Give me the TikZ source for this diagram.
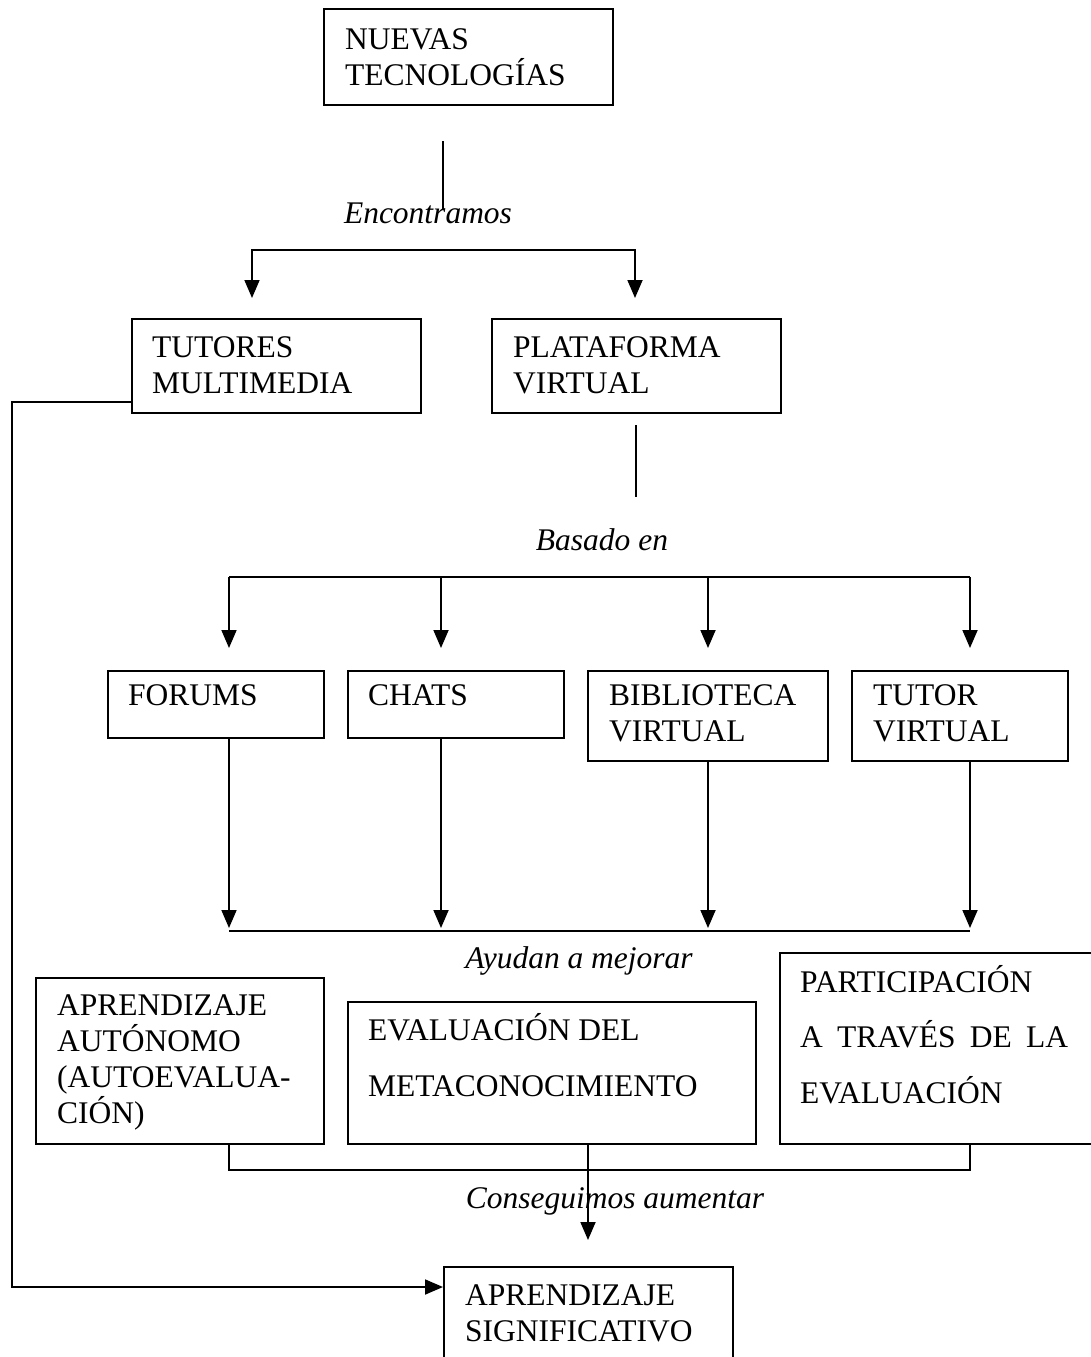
\documentclass[tikz,border=0pt]{standalone}
\usepackage{fontspec}
\setmainfont{Liberation Serif}
\usetikzlibrary{arrows.meta}
\newcommand\mapfont{\fontsize{31.5}{36}\selectfont}
\begin{document}
\begin{tikzpicture}[x=1pt,y=-1pt,
  box/.style={draw, line width=1.8pt, inner sep=0pt, anchor=north west},
  % multi-line texts are placed by the baseline of their last line
  txt/.style={anchor=base west, inner sep=0pt, align=left, font=\mapfont},
  lbl/.style={anchor=base, inner sep=0pt, font=\mapfont\itshape},
  link/.style={line width=1.8pt},
  arr/.style={link, -{Triangle[length=18pt,width=15pt]}}]
\useasboundingbox (0,0) rectangle (1090,1357);

% boxes
\node[box, minimum width=289pt, minimum height=96pt]  (nt) at (323,8) {};
\node[box, minimum width=289pt, minimum height=94pt]  (tm) at (131,318) {};
\node[box, minimum width=289pt, minimum height=94pt]  (pv) at (491,318) {};
\node[box, minimum width=216pt, minimum height=67pt]  (fo) at (107,670) {};
\node[box, minimum width=216pt, minimum height=67pt]  (ch) at (347,670) {};
\node[box, minimum width=240pt, minimum height=90pt]  (bi) at (587,670) {};
\node[box, minimum width=216pt, minimum height=90pt]  (tv) at (851,670) {};
\node[box, minimum width=288pt, minimum height=166pt] (aa) at (35,977) {};
\node[box, minimum width=408pt, minimum height=142pt] (em) at (347,1001) {};
\node[box, minimum width=330pt, minimum height=191pt] (pa) at (779,952) {};
\node[box, minimum width=289pt, minimum height=100pt] (as) at (443,1266) {};

% box texts
\node[txt] (nt-t) at (345,85)   {NUEVAS\\TECNOLOGÍAS};
\node[txt] (tm-t) at (152,393)  {TUTORES\\MULTIMEDIA};
\node[txt] (pv-t) at (513,393)  {PLATAFORMA\\VIRTUAL};
\node[txt] (fo-t) at (128,705)  {FORUMS};
\node[txt] (ch-t) at (368,705)  {CHATS};
\node[txt] (bi-t) at (609,741)  {BIBLIOTECA\\VIRTUAL};
\node[txt] (tv-t) at (873,741)  {TUTOR\\VIRTUAL};
\node[txt] (aa-t) at (57,1123)  {APRENDIZAJE\\AUTÓNOMO\\(AUTOEVALUA-\\CIÓN)};
\node[txt] (em-t) at (368,1096) {EVALUACIÓN DEL\\[19.5pt]METACONOCIMIENTO};
\node[txt] (pa-t) at (800,1103) {PARTICIPACIÓN\\[19.5pt]\makebox[268pt][s]{A TRAVÉS DE LA}\\[19.5pt]EVALUACIÓN};
\node[txt] (as-t) at (465,1341) {APRENDIZAJE\\SIGNIFICATIVO};

% connector labels
\node[lbl] (l1) at (428,223)  {Encontramos};
\node[lbl] (l2) at (602,550)  {Basado en};
\node[lbl] (l3) at (579,968)  {Ayudan a mejorar};
\node[lbl] (l4) at (615,1208) {Conseguimos aumentar};

% first split
\coordinate (a1) at (443,141);
\coordinate (a2) at (443,210);
\draw[link] (a1) -- (a2);
\coordinate (f1l) at (252,250);
\coordinate (f1r) at (635,250);
\draw[arr, shorten >=20pt] (f1r) -- (f1l) -- (f1l |- tm.north);
\draw[arr, shorten >=20pt] (f1l) -- (f1r) -- (f1r |- pv.north);

% side path from the tutors to the final box
\coordinate (lt) at (12,402);
\coordinate (lb) at (12,1287);
\draw[arr] (tm.west |- lt) -- (lt) -- (lb) -- (as.west |- lb);

% second split
\coordinate (b1) at (636,425);
\coordinate (b2) at (636,497);
\draw[link] (b1) -- (b2);
\coordinate (g1) at (229,577);
\coordinate (g2) at (441,577);
\coordinate (g3) at (708,577);
\coordinate (g4) at (970,577);
\draw[link] (g1) -- (g4);
\foreach \g/\b in {g1/fo, g2/ch, g3/bi, g4/tv}
  \draw[arr, shorten >=22pt] (\g) -- (\g |- \b.north);

% merge of the four tools
\coordinate (h1) at (229,931);
\coordinate (h2) at (441,931);
\coordinate (h3) at (708,931);
\coordinate (h4) at (970,931);
\draw[link] (h1) -- (h4);
\foreach \h/\b in {h1/fo, h2/ch, h3/bi, h4/tv}
  \draw[arr, shorten >=3pt] (\b.south -| \h) -- (\h);

% bracket under the three outcomes
\draw[link] (aa.south -| h1) -- ++(0,25) -| (pa.south -| h4);
\coordinate (k) at (588,1168);
\draw[arr, shorten >=26pt] (em.south -| k) -- (k |- as.north);
\end{tikzpicture}
\end{document}
